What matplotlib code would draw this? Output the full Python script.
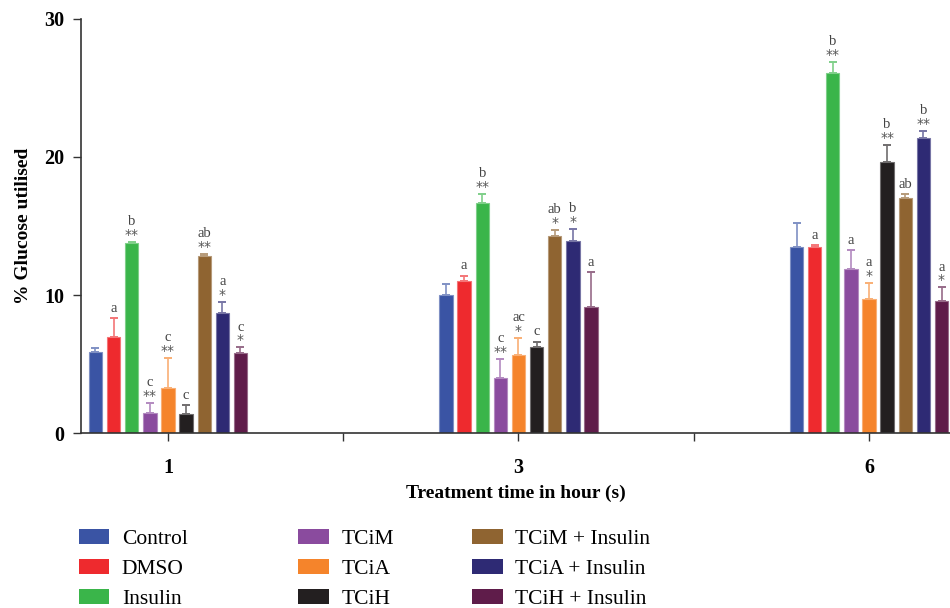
import matplotlib.pyplot as plt
import matplotlib.colors as mcolors
from matplotlib.patches import Patch
import numpy as np

plt.rcParams['font.family'] = ['Liberation Serif', 'DejaVu Serif']

times = ['1', '3', '6']
treatments = ['Control', 'DMSO', 'Insulin', 'TCiM', 'TCiA', 'TCiH',
              'TCiM + Insulin', 'TCiA + Insulin', 'TCiH + Insulin']
colors = ['#3a54a4', '#ee2a2e', '#3ab54a', '#8a4b9e', '#f5842b', '#231f20',
          '#8f6431', '#2e2a74', '#5f1c4a']

# mean % glucose utilised, one list per treatment (time 1, 3, 6 h)
control = [5.9, 10.0, 13.5]
dmso = [6.95, 11.0, 13.5]
insulin = [13.75, 16.7, 26.1]
tcim = [1.45, 4.0, 11.9]
tcia = [3.25, 5.65, 9.7]
tcih = [1.4, 6.2, 19.65]
tcim_ins = [12.8, 14.3, 17.0]
tcia_ins = [8.7, 13.9, 21.4]
tcih_ins = [5.8, 9.15, 9.55]
means = [control, dmso, insulin, tcim, tcia, tcih, tcim_ins, tcia_ins, tcih_ins]

# upper error (SD)
err_control = [0.25, 0.8, 1.75]
err_dmso = [1.35, 0.4, 0.1]
err_insulin = [0.1, 0.65, 0.8]
err_tcim = [0.75, 1.35, 1.35]
err_tcia = [2.2, 1.25, 1.2]
err_tcih = [0.6, 0.4, 1.25]
err_tcim_ins = [0.15, 0.4, 0.3]
err_tcia_ins = [0.8, 0.9, 0.5]
err_tcih_ins = [0.4, 2.5, 1.0]
errors = [err_control, err_dmso, err_insulin, err_tcim, err_tcia, err_tcih,
          err_tcim_ins, err_tcia_ins, err_tcih_ins]

# significance stars and letter groups
stars = [['', '', ''], ['', '', ''], ['**', '**', '**'], ['**', '**', ''],
         ['**', '*', '*'], ['', '', '**'], ['**', '*', ''], ['*', '*', '**'],
         ['*', '', '*']]
letters = [['', '', ''], ['a', 'a', 'a'], ['b', 'b', 'b'], ['c', 'c', 'a'],
           ['c', 'ac', 'a'], ['c', 'c', 'b'], ['ab', 'ab', 'ab'], ['a', 'b', 'b'],
           ['c', 'a', 'a']]

fig = plt.figure(figsize=(9.5, 6.08), dpi=100)
ax = fig.add_axes([0.0853, 0.2878, 0.9147, 0.681])

x = np.arange(len(times))
step = 0.0517
width = 0.038
for i in range(len(treatments)):
    pos = x + (i - 4) * step
    light = mcolors.to_rgb(colors[i])
    light = tuple(c + (1 - c) * 0.35 for c in light)
    ax.bar(pos, means[i], width, color=colors[i], edgecolor=light, linewidth=0.8,
           yerr=[np.zeros(3), errors[i]], capsize=3,
           error_kw=dict(ecolor=light, elinewidth=1.2, capthick=1.4), zorder=2)
    for j in range(len(times)):
        top = means[i][j] + errors[i][j]
        if stars[i][j]:
            ax.annotate(stars[i][j], (pos[j], top), xytext=(0, 0),
                        textcoords='offset points', ha='center', va='bottom',
                        fontsize=10, color='#555555', family='DejaVu Sans')
            loff = 10
        else:
            loff = 2.5
        if letters[i][j]:
            ax.annotate(letters[i][j], (pos[j], top), xytext=(0, loff),
                        textcoords='offset points', ha='center', va='bottom',
                        fontsize=10.5, color='#444444')

ax.set_xlim(-0.248, 2.231)
ax.set_ylim(0, 30)
ax.set_yticks([0, 10, 20, 30])
ax.set_xticks(x)
ax.set_xticklabels(times)
ax.set_xticks([0.5, 1.5], minor=True)
ax.tick_params(axis='both', which='major', labelsize=14.5, length=6, width=1,
               color='#333333', pad=6)
ax.tick_params(axis='x', which='major', pad=12)
ax.tick_params(axis='x', which='minor', length=6, width=1, color='#333333')
for lab in ax.get_xticklabels() + ax.get_yticklabels():
    lab.set_fontweight('bold')
for side in ['top', 'right']:
    ax.spines[side].set_visible(False)
for side in ['left', 'bottom']:
    ax.spines[side].set_color('#333333')
    ax.spines[side].set_linewidth(1.2)

ax.set_ylabel('% Glucose utilised', fontsize=14, fontweight='bold', labelpad=9)
ax.set_xlabel('Treatment time in hour (s)', fontsize=14, fontweight='bold', labelpad=5)

# legend in three columns placed separately
col_x = [0.083, 0.3142, 0.4973]
for c in range(3):
    handles = [Patch(facecolor=colors[k], edgecolor='none') for k in range(c * 3, c * 3 + 3)]
    fig.legend(handles, treatments[c * 3:c * 3 + 3], loc='upper left',
               bbox_to_anchor=(col_x[c], 0.13), frameon=False, fontsize=15.5,
               handlelength=1.4, handleheight=0.7, handletextpad=0.6,
               labelspacing=0.47, borderaxespad=0, borderpad=0)

fig.savefig('out.png', dpi=100)
